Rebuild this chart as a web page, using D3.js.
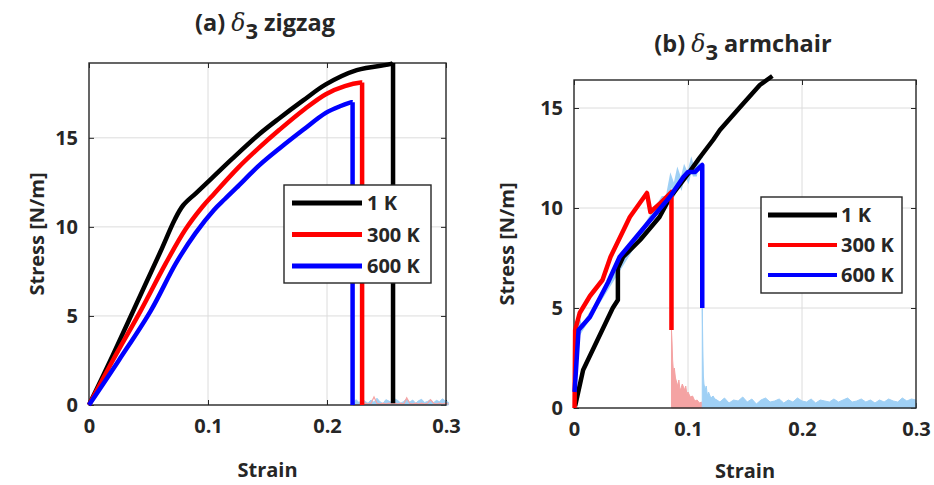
<!DOCTYPE html>
<html>
<head>
<meta charset="utf-8">
<script src="https://cdn.jsdelivr.net/npm/d3@7"></script>
<style>
  html, body { margin: 0; padding: 0; background: #fff; }
  svg { display: block; }
  text { font-family: "Open Sans", "DejaVu Sans", sans-serif; font-weight: 700; fill: #262626; }
</style>
</head>
<body>
<svg id="chart" width="934" height="485"></svg>
<script>
// ---------- data: stress [N/m] vs. strain ----------
const temps = ["1 K", "300 K", "600 K"];
const lineColors = ["#000000", "#ff0000", "#0000ff"];
const xTicks = [0, 0.1, 0.2, 0.3];
const xTickLabels = ["0", "0.1", "0.2", "0.3"];
const yTicks = [0, 5, 10, 15];
const yTickLabels = ["0", "5", "10", "15"];

// (a) zigzag — loading branch up to the failure point
const zzStrain1K = [0, 0.020, 0.040, 0.060, 0.072, 0.079, 0.090, 0.1035, 0.120, 0.143, 0.160, 0.180, 0.199, 0.225, 0.254, 0.2555];
const zzStress1K = [0, 2.8, 5.7, 8.6, 10.4, 11.2, 11.9, 12.75, 13.8, 15.2, 16.1, 17.1, 18.0, 18.8, 19.15, 19.2];
const zzStrain300K = [0, 0.020, 0.0435, 0.0645, 0.081, 0.095, 0.105, 0.125, 0.143, 0.160, 0.180, 0.199, 0.215, 0.2285, 0.2295];
const zzStress300K = [0, 2.5, 5.3, 7.95, 9.85, 11.1, 11.85, 13.3, 14.45, 15.45, 16.55, 17.45, 17.9, 18.1, 18.1];
const zzStrain600K = [0, 0.025, 0.052, 0.073, 0.0895, 0.105, 0.114, 0.124, 0.143, 0.160, 0.180, 0.199, 0.212, 0.2205, 0.2215];
const zzStress600K = [0, 2.5, 5.3, 7.95, 9.65, 10.95, 11.55, 12.2, 13.45, 14.4, 15.45, 16.4, 16.8, 17.0, 17.0];
const zzFailStress = [0.1, 0, 0];
// post-fracture residual stress (sampled every 0.0025 from 0.222)
const zzTailStart = 0.222, zzTailStep = 0.0025;
const zzTail600K = [0.05, 0.30, 0.12, 0.35, 0.20, 0.10, 0.28, 0.15, 0.38, 0.18, 0.08, 0.30, 0.22, 0.12, 0.34, 0.25, 0.10, 0.20, 0.36, 0.15, 0.28, 0.10, 0.24, 0.32, 0.14, 0.20, 0.30, 0.12, 0.26, 0.18, 0.35, 0.22, 0.15];
const zzTail300K = [0, 0, 0, 0.05, 0.1, 0.05, 0.1, 0.45, 0.1, 0.05, 0.1, 0.05, 0.1, 0.05, 0.1, 0.05, 0.1, 0.05, 0.4, 0.1, 0.05, 0.1, 0.05, 0.1, 0.05, 0.1, 0.3, 0.1, 0.05, 0.1, 0.05, 0.1, 0.05];

// (b) armchair
const acStrain1K = [0.001, 0.008, 0.034, 0.0385, 0.0385, 0.043, 0.058, 0.075, 0.084, 0.100, 0.110, 0.122, 0.128, 0.145, 0.163, 0.174];
const acStress1K = [0.1, 1.9, 5.0, 5.4, 7.0, 7.55, 8.4, 9.55, 10.5, 11.7, 12.5, 13.4, 13.9, 15.0, 16.15, 16.6];
const acStrain300K = [0.0005, 0.001, 0.005, 0.014, 0.025, 0.032, 0.049, 0.064, 0.067, 0.075, 0.0855, 0.0855];
const acStress300K = [0, 3.9, 4.75, 5.6, 6.4, 7.55, 9.55, 10.75, 9.8, 10.2, 10.8, 3.9];
const acStrain600K = [0.0005, 0.004, 0.014, 0.030, 0.040, 0.067, 0.084, 0.096, 0.100, 0.106, 0.1125, 0.1125];
const acStress600K = [0.8, 3.9, 4.55, 6.3, 7.55, 9.4, 10.55, 11.55, 11.8, 11.8, 12.15, 5.0];
// raw (unsmoothed) 600 K signal around the start and the peak
const acRawStrain600K = [0.002, 0.004, 0.006, 0.078, 0.082, 0.085, 0.088, 0.091, 0.094, 0.097, 0.100, 0.103, 0.106, 0.109, 0.112];
const acRawStress600K = [3.4, 4.4, 3.9, 10.5, 10.5, 11.4, 10.9, 11.7, 11.2, 11.9, 11.5, 12.2, 11.6, 12.4, 12.6];
// post-fracture envelopes
const acTail300KStrain = [0.0855, 0.086, 0.0865, 0.087, 0.0875, 0.088, 0.089, 0.090, 0.091, 0.092, 0.093, 0.094, 0.095, 0.096, 0.097, 0.098, 0.099, 0.100, 0.102, 0.104, 0.106, 0.108, 0.110, 0.112, 0.113];
const acTail300KStress = [3.9, 3.3, 2.4, 2.0, 1.7, 2.0, 1.5, 1.3, 1.1, 1.4, 0.9, 1.0, 1.2, 1.05, 0.9, 1.1, 0.7, 0.8, 0.55, 0.6, 0.35, 0.4, 0.25, 0.3, 0.1];
const acTail600KStrain = [0.1125, 0.113, 0.1135, 0.114, 0.115, 0.116, 0.117, 0.118, 0.120, 0.122, 0.124];
const acTail600KStress = [5.0, 3.0, 1.6, 1.2, 0.9, 1.1, 0.6, 0.8, 0.5, 0.6, 0.4];
const acTailStart = 0.124, acTailStep = 0.004;
const acTailBand = [0.45, 0.3, 0.5, 0.25, 0.4, 0.35, 0.55, 0.3, 0.45, 0.2, 0.4, 0.5, 0.3, 0.35, 0.45, 0.25, 0.4, 0.3, 0.5, 0.35, 0.3, 0.45, 0.25, 0.4, 0.35, 0.3, 0.45, 0.3, 0.4, 0.5, 0.3, 0.35, 0.45, 0.3, 0.4, 0.25, 0.4, 0.3, 0.45, 0.35, 0.3, 0.5, 0.35, 0.45, 0.4];

const zip = (xs, ys) => xs.map((x, i) => [x, ys[i]]);
const grid = (start, step, ys) => ys.map((y, i) => [start + i * step, y]);

const svg = d3.select("#chart");
svg.append("rect").attr("width", 934).attr("height", 485).attr("fill", "#fff");

function drawPanel(p) {
  const x = d3.scaleLinear().domain([0, 0.3]).range([p.left, p.right]);
  const y = d3.scaleLinear().domain([0, p.yMax]).range([p.bottom, p.top]);
  const g = svg.append("g");

  // grid
  g.append("g").selectAll("line").data(xTicks.slice(1, -1)).join("line")
    .attr("x1", d => x(d)).attr("x2", d => x(d)).attr("y1", p.top).attr("y2", p.bottom)
    .attr("stroke", "#dcdcdc").attr("stroke-width", 1);
  g.append("g").selectAll("line").data(yTicks.slice(1)).join("line")
    .attr("x1", p.left).attr("x2", p.right).attr("y1", d => y(d)).attr("y2", d => y(d))
    .attr("stroke", "#dcdcdc").attr("stroke-width", 1);

  // axes (ticks inward, labels outside)
  const ax = g.append("g").attr("transform", `translate(0,${p.bottom})`)
    .call(d3.axisBottom(x).tickValues(xTicks).tickFormat((d, i) => xTickLabels[i]).tickSizeInner(-5).tickSizeOuter(0).tickPadding(14));
  const ay = g.append("g").attr("transform", `translate(${p.left},0)`)
    .call(d3.axisLeft(y).tickValues(yTicks).tickFormat((d, i) => yTickLabels[i]).tickSizeInner(-5).tickSizeOuter(0).tickPadding(11));
  g.append("g").attr("transform", `translate(0,${p.top})`)
    .call(d3.axisTop(x).tickValues(xTicks).tickFormat("").tickSizeInner(-5).tickSizeOuter(0));
  g.append("g").attr("transform", `translate(${p.right},0)`)
    .call(d3.axisRight(y).tickValues(yTicks).tickFormat("").tickSizeInner(-5).tickSizeOuter(0));
  g.selectAll(".domain").remove();
  g.selectAll(".tick line").attr("stroke", "#262626");
  [ax, ay].forEach(a => a.selectAll("text").attr("font-size", 20).attr("font-family", "'Open Sans', sans-serif").attr("font-weight", 700).attr("fill", "#262626"));

  const line = d3.line().x(d => x(d[0])).y(d => y(d[1]));
  const smooth = d3.line().x(d => x(d[0])).y(d => y(d[1])).curve(d3.curveCatmullRom.alpha(0.5));
  const area = d3.area().x(d => x(d[0])).y0(y(0)).y1(d => y(d[1]));

  // residual / raw signals (light)
  p.areas.forEach(a => g.append("path").attr("d", area(a.pts)).attr("fill", a.color).attr("stroke", a.color).attr("stroke-width", 1));
  p.thin.forEach(a => g.append("path").attr("d", line(a.pts)).attr("fill", "none").attr("stroke", a.color).attr("stroke-width", a.w || 1.5));

  // frame
  g.append("rect").attr("x", p.left).attr("y", p.top).attr("width", p.right - p.left).attr("height", p.bottom - p.top)
    .attr("fill", "none").attr("stroke", "#262626").attr("stroke-width", 1.4);

  // main curves: loading branch, then the straight drop at failure
  p.series.forEach((s, i) => {
    const gen = p.smooth ? smooth : line;
    g.append("path").attr("d", gen(s.load)).attr("fill", "none")
      .attr("stroke", lineColors[i]).attr("stroke-width", 4.5).attr("stroke-linejoin", "round");
    if (s.fail !== undefined) {
      const last = s.load[s.load.length - 1];
      g.append("path").attr("d", line([last, [last[0], s.fail]])).attr("fill", "none")
        .attr("stroke", lineColors[i]).attr("stroke-width", 4.5);
    }
  });

  // title
  const t = svg.append("text").attr("x", p.titleX).attr("y", p.titleY).attr("text-anchor", "middle").attr("font-size", 23.5);
  t.append("tspan").text(p.titleA + " ");
  t.append("tspan").text("δ").attr("font-style", "italic").attr("font-family", "'DejaVu Serif', serif").attr("font-weight", 400);
  t.append("tspan").text("3").attr("dy", 8).attr("font-size", 22);
  t.append("tspan").text(" " + p.titleB).attr("dy", -8);

  // axis labels
  svg.append("text").attr("x", (p.left + p.right) / 2).attr("y", p.xLabelY).attr("text-anchor", "middle").attr("font-size", 20).text("Strain");
  svg.append("text").attr("transform", `translate(${p.yLabelX},${(p.top + p.bottom) / 2}) rotate(-90)`)
    .attr("text-anchor", "middle").attr("font-size", 20).text("Stress [N/m]");

  // legend
  const L = p.legend;
  const lg = svg.append("g");
  lg.append("rect").attr("x", L.x).attr("y", L.y).attr("width", L.w).attr("height", L.h)
    .attr("fill", "#fff").attr("stroke", "#262626").attr("stroke-width", 1.4);
  temps.forEach((name, i) => {
    const cy = L.y + L.first + i * L.gap;
    lg.append("line").attr("x1", L.x + L.l1).attr("x2", L.x + L.l2).attr("y1", cy).attr("y2", cy)
      .attr("stroke", lineColors[i]).attr("stroke-width", i === 0 ? 5 : L.lw);
    lg.append("text").attr("x", L.x + L.tx).attr("y", cy).attr("dy", "0.35em").attr("font-size", 20).text(name);
  });
}

drawPanel({
  left: 89, right: 446, top: 63, bottom: 405, yMax: 19.2, smooth: true,
  series: [
    { load: zip(zzStrain1K, zzStress1K), fail: zzFailStress[0] },
    { load: zip(zzStrain300K, zzStress300K), fail: zzFailStress[1] },
    { load: zip(zzStrain600K, zzStress600K), fail: zzFailStress[2] }
  ],
  areas: [{ pts: grid(zzTailStart, zzTailStep, zzTail600K), color: "#9fd0f5" }],
  thin: [{ pts: grid(zzTailStart, zzTailStep, zzTail300K), color: "#f6a5a5", w: 1.2 }],
  titleA: "(a)", titleB: "zigzag", titleX: 265, titleY: 31,
  xLabelY: 477, yLabelX: 44,
  legend: { x: 284, y: 185, w: 147, h: 98, first: 18, gap: 31.5, l1: 8, l2: 78, lw: 5, tx: 83 }
});

drawPanel({
  left: 574, right: 916, top: 80, bottom: 408, yMax: 16.4, smooth: false,
  series: [
    { load: zip(acStrain1K, acStress1K) },
    { load: zip(acStrain300K, acStress300K) },
    { load: zip(acStrain600K, acStress600K) }
  ],
  areas: [
    { pts: zip(acTail300KStrain, acTail300KStress), color: "#f4a3a3" },
    { pts: zip(acTail600KStrain, acTail600KStress), color: "#9fd0f5" },
    { pts: grid(acTailStart, acTailStep, acTailBand), color: "#9fd0f5" }
  ],
  thin: [{ pts: zip(acRawStrain600K, acRawStress600K), color: "#9fd0f5", w: 4 }],
  titleA: "(b)", titleB: "armchair", titleX: 743, titleY: 52,
  xLabelY: 478, yLabelX: 514,
  legend: { x: 761, y: 197, w: 141, h: 96, first: 18, gap: 30, l1: 7, l2: 76, lw: 4, tx: 80 }
});
</script>
</body>
</html>
